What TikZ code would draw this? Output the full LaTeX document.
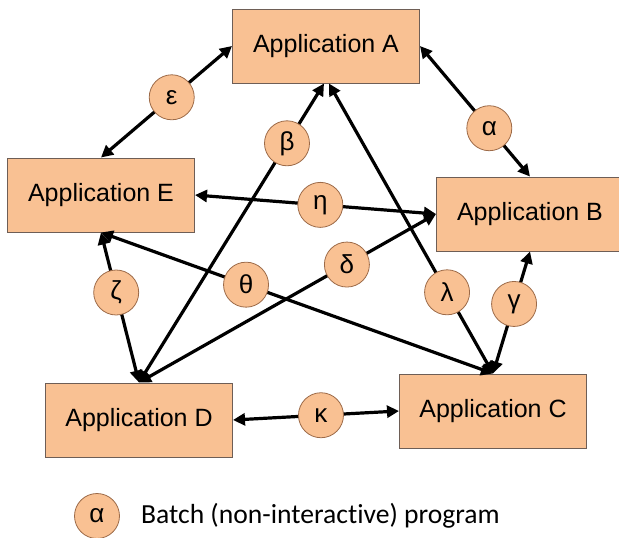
\documentclass[tikz,border=0pt]{standalone}
\usepackage{fontspec}
\setmainfont{Liberation Sans}
\newfontfamily\legendfont[Ligatures=NoCommon]{Carlito}
\usetikzlibrary{arrows.meta}
\definecolor{appfill}{HTML}{F9C193}
\definecolor{appline}{HTML}{6E5E56}
\definecolor{progline}{HTML}{9C6A48}

\begin{document}
\begin{tikzpicture}[x=1pt,y=-1pt,
  app/.style={draw=appline,fill=appfill,line width=1pt,minimum width=187pt,minimum height=74pt,font=\fontsize{25}{29}\selectfont},
  prog/.style={circle,draw=progline,fill=appfill,line width=.8pt,minimum size=45pt,inner sep=0pt,font=\fontsize{26}{30}\selectfont},
  link/.style={<->,line width=3.2pt,>={Triangle[length=12pt,width=12pt]}}]
\useasboundingbox (0,0) rectangle (619,538);
\node[app] (A) at (326,46) {Application A};
\node[app] (E) at (101,195) {Application E};
\node[app] (B) at (530,214) {Application B};
\node[app] (D) at (139,420) {Application D};
\node[app] (C) at (493,411) {Application C};
\draw[link] (A.west) -- node[prog,pos=.46] (eps) {ε} (E.north);
\draw[link] (A.east) -- node[prog,pos=.63] (alpha) {α} (B.north);
\draw[link] ([xshift=-2pt]A.south) -- node[prog,pos=.2] (beta) {β} (D.north);
\draw[link] ([xshift=3pt]A.south) -- node[prog,pos=.72] (lambda) {λ} (C.north);
\draw[link] (E.east) -- node[prog,pos=.52] (eta) {η} (B.west);
\draw[link] (D.north) -- node[prog,pos=.7] (delta) {δ} (B.west);
\draw[link] (E.south) -- node[prog,pos=.37] (theta) {θ} (C.north);
\draw[link] (E.south) -- node[prog,pos=.4] (zeta) {ζ} (D.north);
\draw[link] (C.north) -- node[prog,pos=.57] (gamma) {γ} (B.south);
\draw[link] (D.east) -- node[prog,pos=.53] (kappa) {κ} (C.west);
% legend
\node[prog] (key) at (97,516) {α};
\node[anchor=west,inner sep=0pt,font=\legendfont\fontsize{27.6}{32}\selectfont] (keytext) at (141,516) {Batch (non-interactive) program};
\end{tikzpicture}
\end{document}
